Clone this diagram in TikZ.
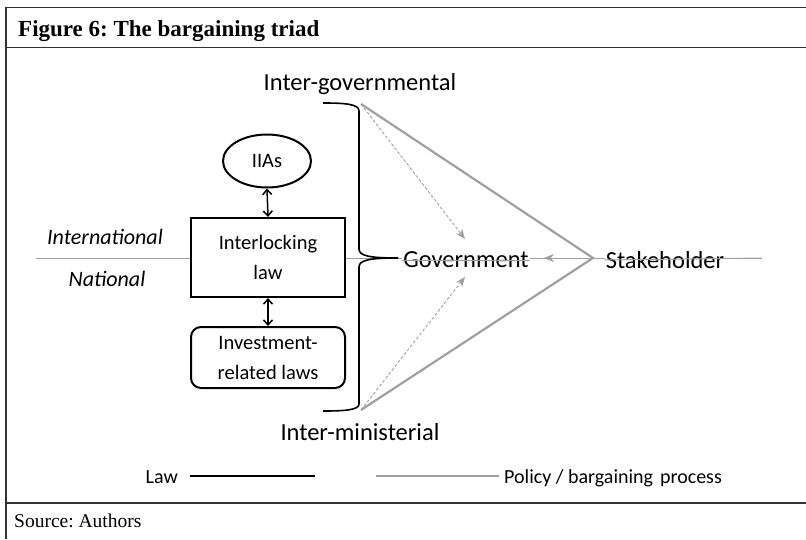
\documentclass[tikz,border=0pt]{standalone}
\usepackage{fontspec}
\setmainfont{Carlito}
\newfontfamily\timesf{Liberation Serif}
\usetikzlibrary{arrows.meta,shapes.geometric}
\definecolor{framegray}{RGB}{50,50,50}
\definecolor{procgray}{RGB}{160,160,160}
\tikzset{
  lawbox/.style={draw=black,line width=2pt,minimum width=154pt,align=center,font=\fontsize{20.5}{30}\selectfont},
  lbl/.style={font=\fontsize{24.5}{28}\selectfont,inner sep=0pt},
  itlbl/.style={font=\fontsize{22}{26}\selectfont\itshape,inner sep=0pt},
  leglbl/.style={font=\fontsize{20}{22}\selectfont,inner sep=0pt},
  lawline/.style={black,line width=1.6pt},
  procline/.style={procgray,line width=2.2pt},
  dasharr/.style={procgray,line width=0.9pt,dashed,dash pattern=on 3pt off 2pt,-{Stealth[length=10pt,width=8pt]}},
  dblarr/.style={black,line width=1.5pt,{Straight Barb[length=5pt,width=9pt]}-{Straight Barb[length=5pt,width=9pt]}},
}
\begin{document}
\frenchspacing
\begin{tikzpicture}[x=1pt,y=-1pt]
\useasboundingbox (0,0) rectangle (806,539);
% frame
\draw[framegray,line width=1.2pt] (806,7.5) -- (6,7.5) -- (6,539);
\draw[framegray,line width=1.2pt] (6,47.5) -- (806,47.5);
\draw[framegray,line width=1.2pt] (6,503) -- (806,503);
\node[anchor=base west,inner sep=0pt,font=\timesf\bfseries\fontsize{23}{26}\selectfont] (title) at (18,36) {Figure 6: The bargaining triad};
\node[anchor=base west,inner sep=0pt,font=\timesf\fontsize{19.5}{23}\selectfont] (source) at (14,527) {Source: Authors};
% horizontal divider line
\coordinate (hl) at (36,258);
\coordinate (hr) at (762,258);
\draw[procgray,line width=1pt] (hl) -- (hr);
% left labels
\node[itlbl] (intl) at (105,237) {International};
\node[itlbl] (natl) at (107,279) {National};
% law nodes
\node[draw=black,line width=2pt,ellipse,minimum width=88pt,minimum height=53pt,inner sep=0pt,font=\fontsize{20.5}{24}\selectfont,fill=white] (iias) at (267,161) {IIAs};
\node[lawbox,minimum height=79pt,fill=white] (inter) at (268,257.5) {Interlocking\\law};
\node[lawbox,minimum height=61pt,rounded corners=10pt,fill=white] (invest) at (268,357.5) {Investment-\\related laws};
\draw[dblarr] (iias.south) -- (inter.north);
\draw[dblarr] (inter.south) -- (invest.north);
% bracket
\coordinate (btop) at (323,103);
\coordinate (bbot) at (323,411);
\coordinate (bmid) at (398,258);
\draw[lawline] (btop) .. controls (345,103) and (359,104) .. (359,111) -- (359,249)
  .. controls (359,256) and (370,258) .. (bmid);
\draw[lawline] (bmid) .. controls (370,258) and (359,260) .. (359,267) -- (359,404)
  .. controls (359,410) and (345,411) .. (bbot);
% nodes
\node[lbl,fill=white,inner sep=1pt] (gov) at (466,260) {Government};
\node[lbl,fill=white,inner sep=1pt] (stake) at (665,260) {Stakeholder};
\node[lbl] (igov) at (360,84) {Inter-governmental};
\node[lbl] (imin) at (360,432) {Inter-ministerial};
% horizontal line struck through the texts
\draw[procgray,line width=1pt] (gov.west) -- (gov.east);
\draw[procgray,line width=1pt] (stake.west) -- (hr);
% process triangle
\coordinate (ta) at (361,104);
\coordinate (ba) at (361,410);
\coordinate (sa) at (593,258);
\draw[procline,line join=miter] (ta) -- (sa) -- (ba);
\draw[dasharr] (ta) -- (465,239);
\draw[dasharr] (ba) -- (465,277);
\draw[dasharr] (sa) -- (544,258);
% legend
\node[leglbl,anchor=base east] (lawlbl) at (178,483) {Law};
\coordinate (l1) at (190,476);
\coordinate (l2) at (315,476);
\draw[black,line width=1.2pt] (l1) -- (l2);
\coordinate (p1) at (376,476);
\coordinate (p2) at (499,476);
\draw[procgray,line width=1.2pt] (p1) -- (p2);
\node[leglbl,anchor=base west] (proclbl) at (504,483) {Policy / bargaining\hspace{7pt}process};
\end{tikzpicture}
\end{document}
